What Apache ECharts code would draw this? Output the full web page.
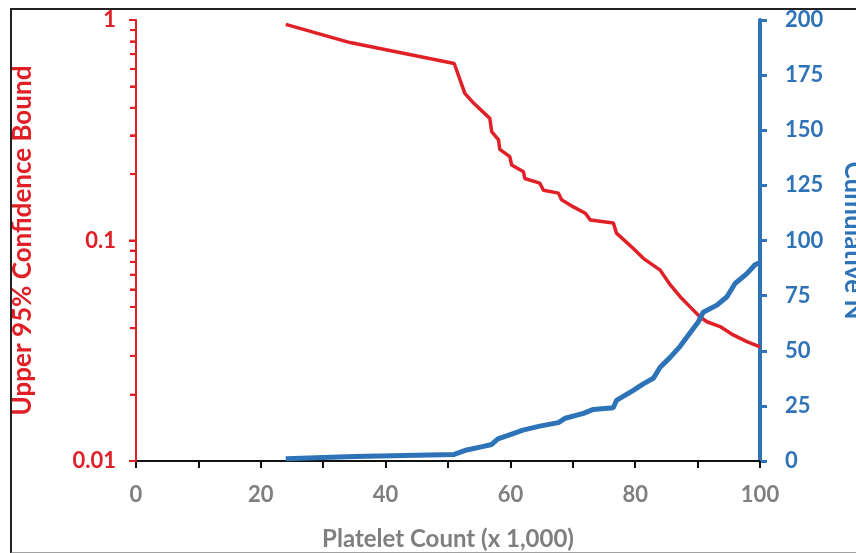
<!DOCTYPE html>
<html>
<head>
<meta charset="utf-8">
<script src="https://cdn.jsdelivr.net/npm/echarts@6/dist/echarts.min.js"></script>
<style>
html,body{margin:0;padding:0;background:#fff;overflow:hidden;}
#wrap{position:relative;width:856px;height:553px;}
#c{position:absolute;left:0;top:0;width:856px;height:553px;}
#frame{position:absolute;left:10px;top:8px;width:870px;height:542px;border-top:2px solid #222;border-left:2px solid #222;border-bottom:2px solid #a0a0a0;pointer-events:none;}
</style>
</head>
<body>
<div id="wrap"><div id="c"></div><div id="frame"></div></div>
<script>
// Upper 95% confidence bound (left, log axis) vs platelet count (x 1,000)
const boundX = [24, 34.3, 51, 52.7, 54.1, 56.7, 57.0, 58.1, 58.3, 59.9, 60.2, 62.1, 62.3, 64.7, 65.3, 67.7, 68.2, 70.1, 72.0, 72.8, 76.5, 77.0, 79.7, 81.3, 84.0, 85.6, 87.2, 88.8, 90.4, 91.5, 93.6, 95.7, 97.9, 100];
const boundY = [0.955, 0.79, 0.635, 0.465, 0.42, 0.358, 0.312, 0.286, 0.259, 0.24, 0.22, 0.205, 0.191, 0.182, 0.169, 0.164, 0.153, 0.142, 0.133, 0.124, 0.12, 0.108, 0.092, 0.083, 0.0734, 0.063, 0.0556, 0.05, 0.045, 0.0428, 0.0407, 0.0373, 0.0348, 0.0329];
// Cumulative N (right axis)
const cumX = [24, 35, 51, 53, 55.5, 57, 58, 60, 62, 64.7, 67.7, 68.8, 71.7, 73.3, 76.5, 77, 79.7, 81.3, 82.9, 84, 85.6, 87.2, 88.5, 90.1, 90.9, 93.1, 94.7, 96, 97.9, 99.2, 100];
const cumN = [1, 2, 3, 5, 6.5, 7.5, 10, 12, 14, 15.8, 17.4, 19.4, 21.6, 23.4, 24.2, 27.5, 32, 35, 37.5, 42.5, 47, 52, 57, 63, 67.5, 70.7, 74.5, 80.5, 85, 89, 90];
// tick values of the log axis (major and minor)
const logMajorTicks = [0.01, 0.1, 1];
const logMinorTicks = [0.02, 0.03, 0.04, 0.05, 0.06, 0.07, 0.08, 0.09, 0.2, 0.3, 0.4, 0.5, 0.6, 0.7, 0.8, 0.9];
const xLabeled = [0, 20, 40, 60, 80, 100];

const RED = '#e01f26';
const BLUE = '#2e73b8';
const GRAY = '#7f7f7f';
const FONT = 'Lato, "Open Sans", sans-serif';

const chart = echarts.init(document.getElementById('c'), null, {renderer: 'canvas'});
chart.setOption({
  animation: false,
  backgroundColor: '#fff',
  grid: {left: 136, right: 96, top: 20, bottom: 92, containLabel: false, outerBoundsMode: 'none'},
  xAxis: {
    type: 'value', min: 0, max: 100, interval: 10,
    axisLine: {show: true, onZero: false, lineStyle: {color: '#111', width: 2}},
    axisTick: {show: true, length: 7, lineStyle: {color: '#111', width: 2}},
    splitLine: {show: false},
    axisLabel: {
      margin: 23, color: GRAY, fontSize: 22, fontFamily: FONT, fontWeight: 'bold',
      formatter: v => xLabeled.indexOf(v) >= 0 ? String(v) : ''
    },
    name: 'Platelet Count (x 1,000)', nameLocation: 'middle', nameGap: 66,
    nameTextStyle: {color: GRAY, fontSize: 24, fontWeight: 'bold', fontFamily: FONT}
  },
  yAxis: [
    {
      type: 'log', logBase: 10, min: 0.01, max: 1, position: 'left', zlevel: 1,
      axisLine: {show: true, onZero: false, lineStyle: {color: RED, width: 2}},
      axisTick: {show: true, length: 7, lineStyle: {color: RED, width: 2}},
      minorTick: {show: true, splitNumber: 9, length: 6, lineStyle: {color: RED, width: 2}},
      splitLine: {show: false},
      minorSplitLine: {show: false},
      axisLabel: {
        margin: 20, color: RED, fontSize: 22, fontWeight: 'bold', fontFamily: FONT,
        formatter: v => v >= 0.99 ? '1' : (v >= 0.099 ? '0.1' : '0.01')
      },
      name: 'Upper 95% Confidence Bound', nameLocation: 'middle', nameRotate: 90, nameGap: 100,
      nameTextStyle: {color: RED, fontSize: 26, fontWeight: 'bold', fontFamily: FONT}
    },
    {
      type: 'value', min: 0, max: 200, interval: 25, position: 'right',
      axisLine: {show: true, onZero: false, lineStyle: {color: BLUE, width: 4}},
      axisTick: {show: true, length: 7, lineStyle: {color: BLUE, width: 3}},
      splitLine: {show: false},
      axisLabel: {
        margin: 25, color: BLUE, fontSize: 22, fontWeight: 'bold', fontFamily: FONT
      },
      name: 'Cumulative N', nameLocation: 'middle', nameRotate: -90, nameGap: 80,
      nameTextStyle: {color: BLUE, fontSize: 26, fontWeight: 'bold', fontFamily: FONT}
    }
  ],
  series: [
    {
      name: 'Upper 95% Confidence Bound', type: 'line', yAxisIndex: 0, showSymbol: false, z: 3,
      data: boundX.map((x, i) => [x, boundY[i]]),
      lineStyle: {color: RED, width: 3.5}, itemStyle: {color: RED}
    },
    {
      name: 'Cumulative N', type: 'line', yAxisIndex: 1, showSymbol: false, z: 4,
      data: cumX.map((x, i) => [x, cumN[i]]),
      lineStyle: {color: BLUE, width: 5}, itemStyle: {color: BLUE}
    }
  ]
});

// Log-axis ticks also drawn on a top layer, placed through the library's own axis scale
const x0 = chart.convertToPixel({xAxisIndex: 0}, 0);
const tickEls = [];
logMajorTicks.forEach(v => {
  const y = chart.convertToPixel({yAxisIndex: 0}, v);
  if (isFinite(y)) tickEls.push({type: 'line', zlevel: 2, z: 10, silent: true,
    shape: {x1: x0 - 7, y1: y, x2: x0, y2: y}, style: {stroke: RED, lineWidth: 2}});
});
logMinorTicks.forEach(v => {
  const y = chart.convertToPixel({yAxisIndex: 0}, v);
  if (isFinite(y)) tickEls.push({type: 'line', zlevel: 2, z: 10, silent: true,
    shape: {x1: x0 - 6, y1: y, x2: x0, y2: y}, style: {stroke: RED, lineWidth: 2}});
});
chart.setOption({graphic: {elements: tickEls}});
</script>
</body>
</html>
